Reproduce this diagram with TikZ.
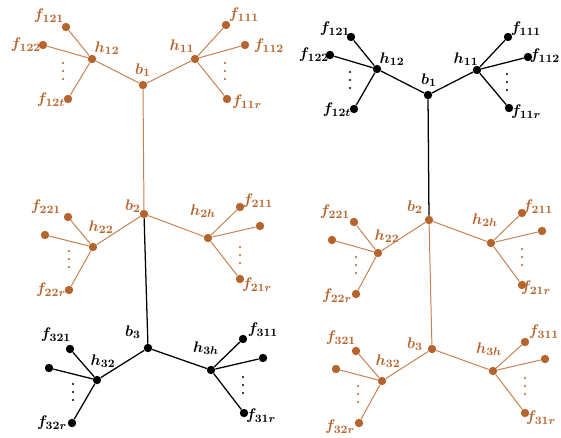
\documentclass[tikz,border=0pt]{standalone}
\usepackage{amsmath,amssymb}
\usepackage{xcolor}
\usepackage{tikz}
\usetikzlibrary{positioning}
\definecolor{rust}{RGB}{181,100,45}
\definecolor{rustline}{RGB}{198,128,82}
\tikzset{
  vtx/.style={
    circle,
    inner sep=0pt,
    minimum size=2.1mm
  },
  ovtx/.style={
    vtx,
    fill=rust
  },
  bvtx/.style={
    vtx,
    fill=black
  },
  oedge/.style={
    draw=rustline,
    line width=0.7pt
  },
  bedge/.style={
    draw=black,
    line width=0.9pt
  },
  olbl/.style={
    text=rust,
    inner sep=0pt,
    font=\boldmath\fontsize{11}{13}\selectfont
  },
  blbl/.style={
    text=black,
    inner sep=0pt,
    font=\boldmath\fontsize{11}{13}\selectfont
  },
  vdotsmark/.pic={
    \fill (0,-8) circle (0.3mm);
    \fill (0,0) circle (0.3mm);
    \fill (0,8) circle (0.3mm);
  }
}

\begin{document}
\begin{tikzpicture}[x=0.25mm, y=-0.25mm]
  \useasboundingbox (0,0) rectangle (561,437);

  % LEFT TREE: TOP (orange)
  \node (L_b1)   [ovtx] at (143,85) {};
  \node (L_h12)  [ovtx] at (92,59) {};
  \node (L_h11)  [ovtx] at (195,59) {};
  \node (L_f121) [ovtx] at (66,27) {};
  \node (L_f122) [ovtx] at (43,45) {};
  \node (L_f12t) [ovtx] at (68,99) {};
  \node (L_f111) [ovtx] at (226,25) {};
  \node (L_f112) [ovtx] at (245,45) {};
  \node (L_f11r) [ovtx] at (227,99) {};

  % LEFT TREE: MIDDLE (orange)
  \node (L_b2)   [ovtx] at (144,214) {};
  \node (L_h22)  [ovtx] at (93,247) {};
  \node (L_h2h)  [ovtx] at (208,238) {};
  \node (L_f221) [ovtx] at (68,217) {};
  \node (L_f222) [ovtx] at (45,235) {};
  \node (L_f22r) [ovtx] at (69,290) {};
  \node (L_f211) [ovtx] at (240,207) {};
  \node (L_f212) [ovtx] at (260,226) {};
  \node (L_f21r) [ovtx] at (240,279) {};

  % LEFT TREE: BOTTOM (black)
  \node (L_b3)   [bvtx] at (148,348) {};
  \node (L_h32)  [bvtx] at (97,380) {};
  \node (L_h3h)  [bvtx] at (211,370) {};
  \node (L_f321) [bvtx] at (70,349) {};
  \node (L_f322) [bvtx] at (49,368) {};
  \node (L_f32r) [bvtx] at (72,423) {};
  \node (L_f311) [bvtx] at (243,339) {};
  \node (L_f312) [bvtx] at (263,358) {};
  \node (L_f31r) [bvtx] at (244,413) {};

  % RIGHT TREE: TOP (black)
  \node (R_b1)   [bvtx] at (428,95) {};
  \node (R_h12)  [bvtx] at (377,69) {};
  \node (R_h11)  [bvtx] at (477,70) {};
  \node (R_f121) [bvtx] at (351,37) {};
  \node (R_f122) [bvtx] at (330,55) {};
  \node (R_f12t) [bvtx] at (354,109) {};
  \node (R_f111) [bvtx] at (508,37) {};
  \node (R_f112) [bvtx] at (528,57) {};
  \node (R_f11r) [bvtx] at (509,108) {};

  % RIGHT TREE: MIDDLE (orange)
  \node (R_b2)   [ovtx] at (429,220) {};
  \node (R_h22)  [ovtx] at (378,253) {};
  \node (R_h2h)  [ovtx] at (491,243) {};
  \node (R_f221) [ovtx] at (354,222) {};
  \node (R_f222) [ovtx] at (332,240) {};
  \node (R_f22r) [ovtx] at (356,294) {};
  \node (R_f211) [ovtx] at (522,213) {};
  \node (R_f212) [ovtx] at (542,231) {};
  \node (R_f21r) [ovtx] at (522,285) {};

  % RIGHT TREE: BOTTOM (orange)
  \node (R_b3)   [ovtx] at (432,349) {};
  \node (R_h32)  [ovtx] at (382,381) {};
  \node (R_h3h)  [ovtx] at (493,371) {};
  \node (R_f321) [ovtx] at (356,351) {};
  \node (R_f322) [ovtx] at (336,369) {};
  \node (R_f32r) [ovtx] at (359,423) {};
  \node (R_f311) [ovtx] at (525,342) {};
  \node (R_f312) [ovtx] at (545,359) {};
  \node (R_f31r) [ovtx] at (525,413) {};

  % LABELS
  \node [olbl] at (49,16)   {$f_{121}$};
  \node [olbl] at (26,45)   {$f_{122}$};
  \node [olbl] at (51,100)  {$f_{12t}$};
  \node [olbl] at (107,48)  {$h_{12}$};
  \node [olbl] at (143,70)  {$b_1$};
  \node [olbl] at (182,46)  {$h_{11}$};
  \node [olbl] at (244,15)  {$f_{111}$};
  \node [olbl] at (269,46)  {$f_{112}$};
  \node [olbl] at (247,102) {$f_{11r}$};

  \node [olbl] at (46,207)  {$f_{221}$};
  \node [olbl] at (51,290)  {$f_{22r}$};
  \node [olbl] at (101,227) {$h_{22}$};
  \node [olbl] at (133,206) {$b_2$};
  \node [olbl] at (203,211) {$h_{2h}$};
  \node [olbl] at (258,201) {$f_{211}$};
  \node [olbl] at (257,285) {$f_{21r}$};

  \node [blbl] at (56,335)  {$f_{321}$};
  \node [blbl] at (52,423)  {$f_{32r}$};
  \node [blbl] at (103,361) {$h_{32}$};
  \node [blbl] at (133,332) {$b_3$};
  \node [blbl] at (206,348) {$h_{3h}$};
  \node [blbl] at (263,330) {$f_{311}$};
  \node [blbl] at (261,416) {$f_{31r}$};

  \node [blbl] at (335,29)  {$f_{121}$};
  \node [blbl] at (314,55)  {$f_{122}$};
  \node [blbl] at (337,110) {$f_{12t}$};
  \node [blbl] at (392,59)  {$h_{12}$};
  \node [blbl] at (429,80)  {$b_1$};
  \node [blbl] at (466,59)  {$h_{11}$};
  \node [blbl] at (526,29)  {$f_{111}$};
  \node [blbl] at (545,56)  {$f_{112}$};
  \node [blbl] at (526,112) {$f_{11r}$};

  \node [olbl] at (335,212) {$f_{221}$};
  \node [olbl] at (337,296) {$f_{22r}$};
  \node [olbl] at (387,236) {$h_{22}$};
  \node [olbl] at (415,207) {$b_2$};
  \node [olbl] at (485,220) {$h_{2h}$};
  \node [olbl] at (538,207) {$f_{211}$};
  \node [olbl] at (536,288) {$f_{21r}$};

  \node [olbl] at (341,338) {$f_{321}$};
  \node [olbl] at (340,427) {$f_{32r}$};
  \node [olbl] at (388,361) {$h_{32}$};
  \node [olbl] at (415,344) {$b_3$};
  \node [olbl] at (489,349) {$h_{3h}$};
  \node [olbl] at (544,332) {$f_{311}$};
  \node [olbl] at (541,418) {$f_{31r}$};

  % DOTS
  \pic [rust]  at (63,71)   {vdotsmark};
  \pic [rust]  at (225,71)  {vdotsmark};
  \pic [rust]  at (69,259)  {vdotsmark};
  \pic [rust]  at (240,255) {vdotsmark};
  \pic [black] at (73,392)  {vdotsmark};
  \pic [black] at (243,385) {vdotsmark};
  \pic [black] at (350,80)  {vdotsmark};
  \pic [black] at (507,82)  {vdotsmark};
  \pic [rust]  at (356,265) {vdotsmark};
  \pic [rust]  at (522,257) {vdotsmark};
  \pic [rust]  at (358,394) {vdotsmark};
  \pic [rust]  at (525,386) {vdotsmark};

  % LEFT TREE EDGES
  \draw[oedge] (L_b1) -- (L_h12);
  \draw[oedge] (L_b1) -- (L_h11);
  \draw[oedge] (L_h12) -- (L_f121);
  \draw[oedge] (L_h12) -- (L_f122);
  \draw[oedge] (L_h12) -- (L_f12t);
  \draw[oedge] (L_h11) -- (L_f111);
  \draw[oedge] (L_h11) -- (L_f112);
  \draw[oedge] (L_h11) -- (L_f11r);
  \draw[oedge] (L_b1) -- (L_b2);
  \draw[oedge] (L_b2) -- (L_h22);
  \draw[oedge] (L_b2) -- (L_h2h);
  \draw[oedge] (L_h22) -- (L_f221);
  \draw[oedge] (L_h22) -- (L_f222);
  \draw[oedge] (L_h22) -- (L_f22r);
  \draw[oedge] (L_h2h) -- (L_f211);
  \draw[oedge] (L_h2h) -- (L_f212);
  \draw[oedge] (L_h2h) -- (L_f21r);
  \draw[bedge] (L_b2) -- (L_b3);
  \draw[bedge] (L_b3) -- (L_h32);
  \draw[bedge] (L_b3) -- (L_h3h);
  \draw[bedge] (L_h32) -- (L_f321);
  \draw[bedge] (L_h32) -- (L_f322);
  \draw[bedge] (L_h32) -- (L_f32r);
  \draw[bedge] (L_h3h) -- (L_f311);
  \draw[bedge] (L_h3h) -- (L_f312);
  \draw[bedge] (L_h3h) -- (L_f31r);

  % RIGHT TREE EDGES
  \draw[bedge] (R_b1) -- (R_h12);
  \draw[bedge] (R_b1) -- (R_h11);
  \draw[bedge] (R_h12) -- (R_f121);
  \draw[bedge] (R_h12) -- (R_f122);
  \draw[bedge] (R_h12) -- (R_f12t);
  \draw[bedge] (R_h11) -- (R_f111);
  \draw[bedge] (R_h11) -- (R_f112);
  \draw[bedge] (R_h11) -- (R_f11r);
  \draw[bedge] (R_b1) -- (R_b2);
  \draw[oedge] (R_b2) -- (R_h22);
  \draw[oedge] (R_b2) -- (R_h2h);
  \draw[oedge] (R_h22) -- (R_f221);
  \draw[oedge] (R_h22) -- (R_f222);
  \draw[oedge] (R_h22) -- (R_f22r);
  \draw[oedge] (R_h2h) -- (R_f211);
  \draw[oedge] (R_h2h) -- (R_f212);
  \draw[oedge] (R_h2h) -- (R_f21r);
  \draw[oedge] (R_b2) -- (R_b3);
  \draw[oedge] (R_b3) -- (R_h32);
  \draw[oedge] (R_b3) -- (R_h3h);
  \draw[oedge] (R_h32) -- (R_f321);
  \draw[oedge] (R_h32) -- (R_f322);
  \draw[oedge] (R_h32) -- (R_f32r);
  \draw[oedge] (R_h3h) -- (R_f311);
  \draw[oedge] (R_h3h) -- (R_f312);
  \draw[oedge] (R_h3h) -- (R_f31r);

\end{tikzpicture}
\end{document}
